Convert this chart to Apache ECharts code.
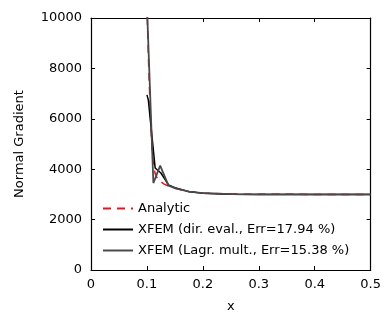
<!DOCTYPE html>
<html>
<head>
<meta charset="utf-8">
<script src="https://cdn.jsdelivr.net/npm/echarts@6/dist/echarts.min.js"></script>
<style>
  html, body { margin: 0; padding: 0; background: #fff; }
  #main { width: 384px; height: 320px; }
</style>
</head>
<body>
<div id="main"></div>
<script>
// x ticks / y ticks
var xTicks = [0, 0.1, 0.2, 0.3, 0.4, 0.5];
var yTicks = [0, 2000, 4000, 6000, 8000, 10000];

var seriesNames = ['Analytic', 'XFEM (dir. eval., Err=17.94 %)', 'XFEM (Lagr. mult., Err=15.38 %)'];

// analytic solution, [x, gradient]
var analytic = [
  [0.1, 10600], [0.102, 8900], [0.104, 7500], [0.106, 6350], [0.108, 5200],
  [0.110, 4500], [0.1125, 4050], [0.115, 3800], [0.12, 3580], [0.13, 3420],
  [0.14, 3320], [0.15, 3240], [0.175, 3110], [0.2, 3050], [0.25, 3015],
  [0.3, 3005], [0.4, 3000], [0.5, 3000]
];
// XFEM, direct evaluation
var dirEval = [
  [0.1, 6950], [0.1025, 6750], [0.1147, 4050], [0.125, 3850], [0.1386, 3380],
  [0.15, 3270], [0.175, 3110], [0.2, 3050], [0.25, 3010], [0.3, 3000],
  [0.4, 3000], [0.5, 3000]
];
// XFEM, Lagrange multipliers
var lagrMult = [
  [0.1, 10500], [0.1115, 3450], [0.1237, 4140], [0.1386, 3350], [0.15, 3250],
  [0.175, 3110], [0.2, 3050], [0.25, 3010], [0.3, 3000], [0.4, 3000], [0.5, 3000]
];

var myChart = echarts.init(document.getElementById('main'));

var font = 'DejaVu Sans, sans-serif';
var tick = { show: true, inside: true, length: 4, lineStyle: { color: '#000', width: 1 } };
var line = { show: true, onZero: false, lineStyle: { color: '#000', width: 1.2 } };

option = {
  animation: false,
  textStyle: { fontFamily: font },
  grid: { left: 91, right: 13, top: 18, bottom: 50 },
  legend: {
    orient: 'vertical',
    left: 97,
    top: 197,
    itemWidth: 30,
    itemHeight: 12,
    itemGap: 8,
    itemStyle: { opacity: 0 },
    textStyle: { fontSize: 13, color: '#000', fontFamily: font },
    data: seriesNames
  },
  xAxis: [
    {
      type: 'value', min: 0, max: 0.5, interval: 0.1,
      name: 'x', nameLocation: 'middle', nameGap: 30,
      nameTextStyle: { fontSize: 13, color: '#000' },
      axisLine: line, axisTick: tick, splitLine: { show: false },
      axisLabel: { fontSize: 13, color: '#000', margin: 8 }
    },
    {
      type: 'value', min: 0, max: 0.5, interval: 0.1, position: 'top',
      axisLine: line, axisTick: tick, splitLine: { show: false },
      axisLabel: { show: false }
    }
  ],
  yAxis: [
    {
      type: 'value', min: 0, max: 10000, interval: 2000,
      name: 'Normal Gradient', nameLocation: 'middle', nameGap: 65,
      nameTextStyle: { fontSize: 13, color: '#000' },
      axisLine: line, axisTick: tick, splitLine: { show: false },
      axisLabel: { fontSize: 13, color: '#000', margin: 9, formatter: function (v) { return String(v); } }
    },
    {
      type: 'value', min: 0, max: 10000, interval: 2000, position: 'right',
      axisLine: line, axisTick: tick, splitLine: { show: false },
      axisLabel: { show: false }
    }
  ],
  series: [
    {
      name: seriesNames[0], type: 'line', data: analytic, symbol: 'none',
      clip: true, lineStyle: { color: '#e8141b', width: 1.5, type: [8, 6] },
      itemStyle: { color: '#e8141b' }
    },
    {
      name: seriesNames[1], type: 'line', data: dirEval, symbol: 'none',
      clip: true, lineStyle: { color: '#000', width: 1.5 },
      itemStyle: { color: '#000' }
    },
    {
      name: seriesNames[2], type: 'line', data: lagrMult, symbol: 'none',
      clip: true, lineStyle: { color: '#4a4a4a', width: 1.8 },
      itemStyle: { color: '#4a4a4a' }
    }
  ]
};

myChart.setOption(option);
</script>
</body>
</html>
